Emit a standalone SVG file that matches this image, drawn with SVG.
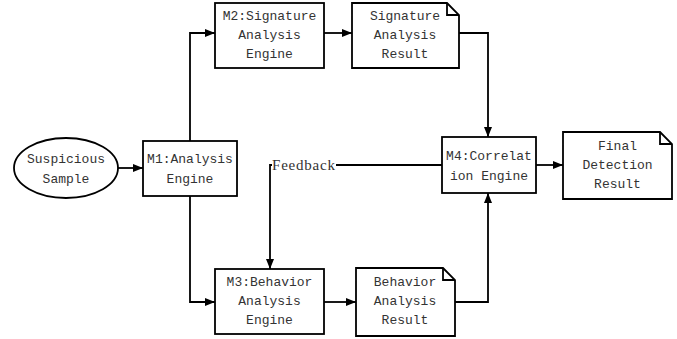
<svg xmlns="http://www.w3.org/2000/svg" width="677" height="339" viewBox="0 0 677 339">
<style>
.box{fill:#fff;stroke:#000;stroke-width:1.8}
.ln{fill:none;stroke:#000;stroke-width:1.8}
.t{font-family:"Liberation Mono","DejaVu Sans Mono",monospace;font-size:13px;fill:#333;text-anchor:middle}
.fb{font-family:"Liberation Serif","DejaVu Serif",serif;font-size:15px;fill:#333}
</style>
<defs>
<marker id="ah" viewBox="0 0 10 8" refX="10" refY="4" markerWidth="10" markerHeight="8" markerUnits="userSpaceOnUse" orient="auto">
<path d="M0,0 L10,4 L0,8 Z" fill="#000"/>
</marker>
</defs>
<rect width="677" height="339" fill="#fff"/>
<g id="connectors">
<line class="ln" x1="118" y1="168" x2="143" y2="168" marker-end="url(#ah)"/>
<polyline class="ln" points="190,141 190,33 215,33" marker-end="url(#ah)"/>
<polyline class="ln" points="190,196 190,302 215,302" marker-end="url(#ah)"/>
<line class="ln" x1="324" y1="33" x2="352" y2="33" marker-end="url(#ah)"/>
<line class="ln" x1="324" y1="302" x2="356" y2="302" marker-end="url(#ah)"/>
<polyline class="ln" points="459,33 488,33 488,137" marker-end="url(#ah)"/>
<polyline class="ln" points="455,302 488,302 488,193" marker-end="url(#ah)"/>
<line class="ln" x1="536" y1="165" x2="563" y2="165" marker-end="url(#ah)"/>
<polyline class="ln" points="442,165 270,165 270,269" marker-end="url(#ah)"/>
<rect x="272" y="157" width="64" height="16" fill="#fff"/>
<text class="fb" x="272" y="170" textLength="63">Feedback</text>
</g>
<g id="sample">
<ellipse class="box" cx="66" cy="168" rx="52" ry="30"/>
<text class="t" x="66" y="163">Suspicious</text>
<text class="t" x="66" y="183">Sample</text>
</g>
<g id="m1">
<rect class="box" x="143" y="141" width="94" height="55"/>
<text class="t" x="190" y="163">M1:Analysis</text>
<text class="t" x="190" y="183">Engine</text>
</g>
<g id="m2">
<rect class="box" x="215" y="3" width="109" height="65"/>
<text class="t" x="269.5" y="20">M2:Signature</text>
<text class="t" x="269.5" y="39">Analysis</text>
<text class="t" x="269.5" y="58">Engine</text>
</g>
<g id="sigresult">
<path class="box" d="M352,3 H447 L459,15 V68 H352 Z"/>
<path class="ln" d="M447,3 V15 H459"/>
<text class="t" x="405" y="20">Signature</text>
<text class="t" x="405" y="39">Analysis</text>
<text class="t" x="405" y="58">Result</text>
</g>
<g id="m3">
<rect class="box" x="215" y="269" width="109" height="65"/>
<text class="t" x="269.5" y="286">M3:Behavior</text>
<text class="t" x="269.5" y="305">Analysis</text>
<text class="t" x="269.5" y="324">Engine</text>
</g>
<g id="behresult">
<path class="box" d="M356,268 H443 L455,280 V336 H356 Z"/>
<path class="ln" d="M443,268 V280 H455"/>
<text class="t" x="405" y="286">Behavior</text>
<text class="t" x="405" y="305">Analysis</text>
<text class="t" x="405" y="324">Result</text>
</g>
<g id="m4">
<rect class="box" x="442" y="137" width="94" height="56"/>
<text class="t" x="489" y="160">M4:Correlat</text>
<text class="t" x="489" y="180">ion Engine</text>
</g>
<g id="final">
<path class="box" d="M563,132 H660 L672,144 V199 H563 Z"/>
<path class="ln" d="M660,132 V144 H672"/>
<text class="t" x="617.5" y="150">Final</text>
<text class="t" x="617.5" y="169">Detection</text>
<text class="t" x="617.5" y="188">Result</text>
</g>
</svg>
